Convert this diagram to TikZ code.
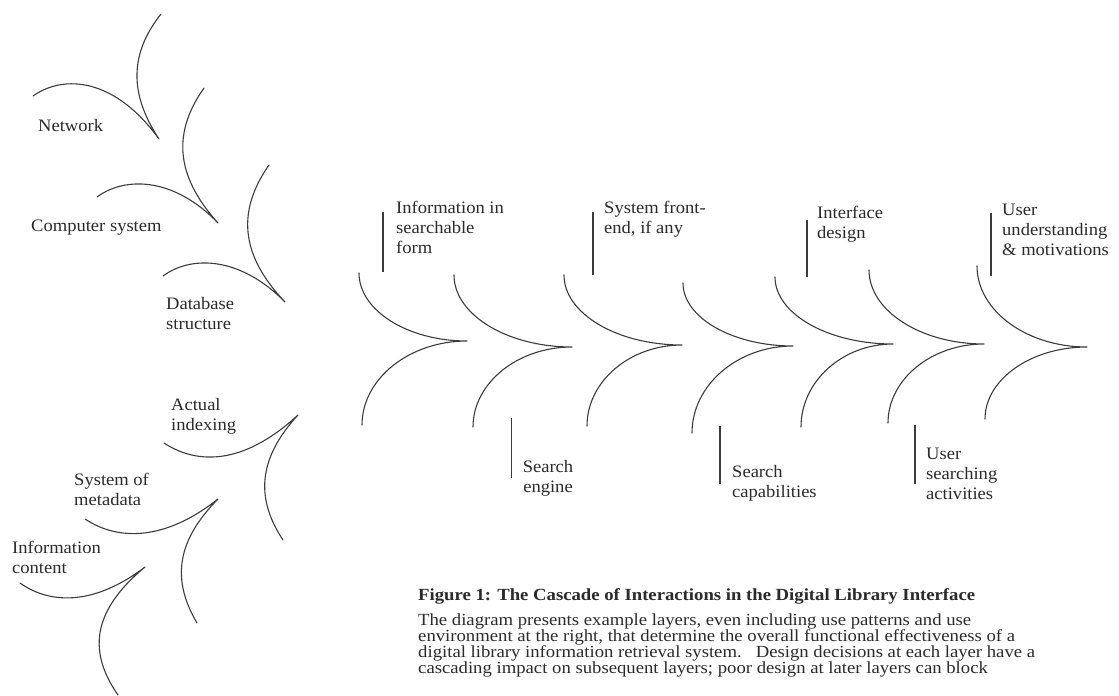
\documentclass[tikz,border=0pt]{standalone}
\usepackage{fontspec}
\setmainfont{Liberation Serif}
\newfontfamily\lblfont{Liberation Serif}[FakeStretch=1.06]
\newfontfamily\capfont{Liberation Serif}[FakeStretch=1.1]
\definecolor{ink}{HTML}{2B2B2B}
\definecolor{lineink}{HTML}{3C3C3C}
% stacked lines whose baseline is the first line's baseline
\newcommand\stackl[1]{\vtop{\halign{##\hfil\cr#1\crcr}}}
\newcommand\stackc[1]{\vtop{\halign{\hfil##\hfil\cr#1\crcr}}}
\begin{document}
\begin{tikzpicture}[x=1pt,y=-1pt,
  curvestroke/.style={draw=lineink, line width=1.1pt, line join=round, line cap=round},
  markbar/.style={draw=lineink, line width=1.5pt},
  lbl/.style={inner sep=0pt, anchor=base west, text=ink,
    font=\lblfont\fontsize{17.5}{20}\selectfont},
  captext/.style={inner sep=0pt, anchor=base west, text=ink,
    font=\capfont\fontsize{17}{16}\selectfont}]
\useasboundingbox[fill=white] (0,0) rectangle (1119,696);

% --- left cascade, upper branch (tips pointing down-right)
\draw[curvestroke] (33,96) .. controls (64,74) and (115,78) .. (159,139)
           .. controls (129.3,94) and (129.3,54) .. (161,14);
\draw[curvestroke] (97,197) .. controls (127,175) and (176,179) .. (218,223)
           .. controls (173.7,174) and (173.7,131) .. (204,88);
\draw[curvestroke] (163,276) .. controls (193,254) and (242,258) .. (285,302)
           .. controls (238.3,253) and (238.3,209) .. (269,165);

% --- left cascade, lower branch (tips pointing up-right)
\draw[curvestroke] (164,443) .. controls (197.5,465) and (244,465) .. (298,415)
           .. controls (256.5,460) and (256.5,500) .. (283,540);
\draw[curvestroke] (85,519) .. controls (118,541) and (165,541) .. (218,499)
           .. controls (173.5,544) and (173.5,583) .. (197,623);
\draw[curvestroke] (20,583) .. controls (51,605) and (95,605) .. (145,567)
           .. controls (89.5,613) and (89.5,654) .. (118,695);

\node[lbl] (network)  at (38,131)  {Network};
\node[lbl] (computer) at (31,231)  {Computer system};
\node[lbl] (database) at (166,309) {\stackl{Database\cr structure}};
\node[lbl] (indexing) at (171,410) {\stackl{Actual\cr indexing}};
\node[lbl] (metadata) at (74,485)  {\stackl{System of\cr metadata}};
\node[lbl] (content)  at (12,553)  {\stackl{Information\cr content}};

% --- horizontal chain of chevrons: top end, tip, bottom end
\foreach \tx/\ty/\px/\py/\bx/\by in {
    359/273/467/341/362/425,
    454/275/572/347/473/427,
    564/275/682/345/587/426,
    683/283/793/346/692/433,
    775/277/893/344/801/427,
    869/270/984/344/888/423,
    977/266/1087/347/985/419}{
  \draw[curvestroke] (\tx,\ty)
     .. controls (\tx,{\ty+0.55*(\py-\ty)}) and ({\px-0.55*(\px-\tx)},\py) .. (\px,\py)
     .. controls ({\px-0.55*(\px-\bx)},\py) and (\bx,{\by-0.55*(\by-\py)}) .. (\bx,\by);
}

% --- layer labels with their marker bars
\draw[markbar] (383,212) -- (383,272);
\node[lbl] (searchable) at (396,213) {\stackl{Information in\cr searchable\cr form}};
\draw[markbar] (511.5,418) -- (511.5,478);
\node[lbl, anchor=base] (engine) at (548,472) {\stackc{Search\cr engine}};
\draw[markbar] (593,212) -- (593,275);
\node[lbl] (frontend) at (604,213) {\stackl{System front-\cr end, if any}};
\draw[markbar] (720,426) -- (720,484);
\node[lbl] (capab) at (732,477) {\stackl{Search\cr capabilities}};
\draw[markbar] (807,220) -- (807,277);
\node[lbl] (iface) at (817,218) {\stackl{Interface\cr design}};
\draw[markbar] (915,425) -- (915,484);
\node[lbl] (activities) at (926,459) {\stackl{User\cr searching\cr activities}};
\draw[markbar] (991,213) -- (991,276);
\node[lbl] (motiv) at (1002,215) {\stackl{User\cr understanding\cr \& motivations}};

% --- caption
\node[captext, font=\capfont\bfseries\fontsize{17}{16}\selectfont] (title) at (418,600)
  {Figure 1: The Cascade of Interactions in the Digital Library Interface};
\node[captext] (body) at (418,625) {\stackl{%
  The diagram presents example layers, even including use patterns and use\cr
  environment at the right, that determine the overall functional effectiveness of a\cr
  digital library information retrieval system.\ \ \ Design decisions at each layer have a\cr
  cascading impact on subsequent layers; poor design at later layers can block}};
\end{tikzpicture}
\end{document}
